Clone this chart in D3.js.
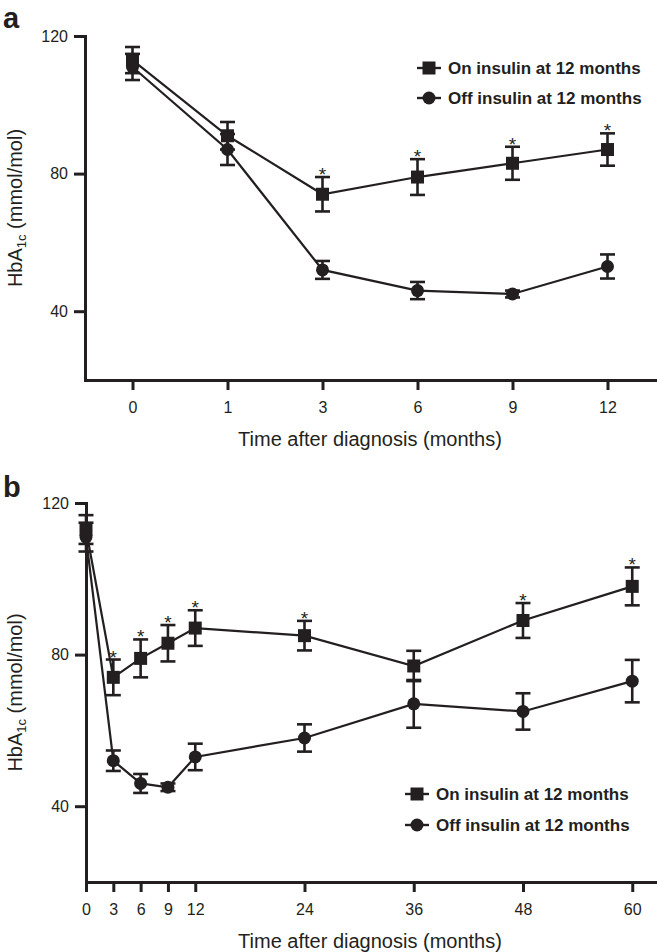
<!DOCTYPE html>
<html>
<head>
<meta charset="utf-8">
<script src="https://cdn.jsdelivr.net/npm/d3@7"></script>
<style>
  body { margin: 0; background: #fff; }
  svg text { font-family: "Liberation Sans", Arial, Helvetica, sans-serif; fill: #231f20; }
</style>
</head>
<body>
<script>
"use strict";

// ---- data, panel a (months shown as equally spaced categories)
const monthsA = [0, 1, 3, 6, 9, 12];
const onA = [113, 91, 74, 79, 83, 87];
const onErrA = [3.8, 4, 5, 5.2, 4.8, 4.7];
const offA = [111, 87, 52, 46, 45, 53];
const offErrA = [3.8, 4.5, 2.6, 2.5, 1, 3.5];
const sigA = [3, 6, 9, 12];

// ---- data, panel b (months on a linear scale)
const monthsB = [0, 3, 6, 9, 12, 24, 36, 48, 60];
const onB = [113, 74, 79, 83, 87, 85, 77, 89, 98];
const onErrB = [3.8, 4.7, 5, 4.8, 4.7, 3.9, 4, 4.6, 5];
const offB = [111, 52, 46, 45, 53, 58, 67, 65, 73];
const offErrB = [3.8, 2.7, 2.5, 1, 3.5, 3.6, 6.3, 4.8, 5.6];
const sigB = [3, 6, 9, 12, 24, 48, 60];

const yTicks = [40, 80, 120];
const xTicksB = [0, 3, 6, 9, 12, 24, 36, 48, 60];
const legendLabels = ["On insulin at 12 months", "Off insulin at 12 months"];
const xTitle = "Time after diagnosis (months)";

const ink = "#231f20";

const svg = d3.select("body").append("svg")
    .attr("width", 657)
    .attr("height", 952);

// draws one panel; p holds scales, data and a few layout numbers
function drawPanel(p) {
    const g = svg.append("g");
    const x = p.x, y = p.y;
    const px = p.px;
    const y0 = y.range()[0];
    const x0 = x.range()[0];

    // x axis
    const xa = g.append("g")
        .attr("transform", "translate(0," + y0 + ")")
        .call(d3.axisBottom(x).tickValues(p.xTicks).tickSize(10).tickPadding(12).tickSizeOuter(0));

    // y axis
    const ya = g.append("g")
        .attr("transform", "translate(" + x0 + ",0)")
        .call(d3.axisLeft(y).tickValues(yTicks).tickSize(11).tickPadding(6).tickSizeOuter(0));

    [xa, ya].forEach(a => {
        a.select(".domain").attr("stroke", ink).attr("stroke-width", 3).attr("stroke-linecap", "square");
        a.selectAll(".tick line").attr("stroke", ink).attr("stroke-width", 3);
        a.selectAll(".tick text").attr("font-size", 16).attr("font-family", null);
    });

    // axis titles
    g.append("text")
        .attr("x", 370)
        .attr("y", y0 + 66)
        .attr("text-anchor", "middle")
        .attr("font-size", 20)
        .text(xTitle);

    const yl = g.append("text")
        .attr("transform", "translate(22," + ((y.range()[0] + y.range()[1]) / 2) + ") rotate(-90)")
        .attr("text-anchor", "middle")
        .attr("font-size", 20);
    yl.append("tspan").text("HbA");
    yl.append("tspan").attr("font-size", 13).attr("dy", 4).text("1c");
    yl.append("tspan").attr("dy", -4).text(" (mmol/mol)");

    // panel letter
    g.append("text")
        .attr("x", 3)
        .attr("y", p.letterY)
        .attr("font-size", 29)
        .attr("font-weight", "bold")
        .text(p.letter);

    const series = [
        { vals: p.off, errs: p.offErr, shape: "circle" },
        { vals: p.on, errs: p.onErr, shape: "square" }
    ];

    const line = d3.line().x(d => px(d.m)).y(d => y(d.v));

    series.forEach(s => {
        s.pts = p.months.map((m, i) => ({ m: m, v: s.vals[i], e: s.errs[i] }));
        g.append("path")
            .datum(s.pts)
            .attr("d", line)
            .attr("fill", "none")
            .attr("stroke", ink)
            .attr("stroke-width", 2.2);
    });

    // error bars
    series.forEach(s => {
        const eb = g.append("g").selectAll("g").data(s.pts).enter().append("g")
            .attr("stroke", ink).attr("stroke-width", 2.6);
        eb.append("line")
            .attr("x1", d => px(d.m)).attr("x2", d => px(d.m))
            .attr("y1", d => y(d.v - d.e)).attr("y2", d => y(d.v + d.e));
        eb.append("line")
            .attr("x1", d => px(d.m) - 7.5).attr("x2", d => px(d.m) + 7.5)
            .attr("y1", d => y(d.v + d.e)).attr("y2", d => y(d.v + d.e));
        eb.append("line")
            .attr("x1", d => px(d.m) - 7.5).attr("x2", d => px(d.m) + 7.5)
            .attr("y1", d => y(d.v - d.e)).attr("y2", d => y(d.v - d.e));
    });

    // markers
    series.forEach(s => {
        const sel = g.append("g").selectAll(".mk").data(s.pts).enter();
        if (s.shape === "circle") {
            sel.append("circle")
                .attr("cx", d => px(d.m)).attr("cy", d => y(d.v)).attr("r", 6.5)
                .attr("fill", ink);
        } else {
            sel.append("rect")
                .attr("x", d => px(d.m) - 6.5).attr("y", d => y(d.v) - 6.5)
                .attr("width", 13).attr("height", 13)
                .attr("fill", ink);
        }
    });

    // significance stars over the on-insulin series
    const onPts = series[1].pts.filter(d => p.sig.indexOf(d.m) >= 0);
    g.append("g").selectAll("text").data(onPts).enter().append("text")
        .attr("x", d => px(d.m))
        .attr("y", d => y(d.v + d.e) + 4)
        .attr("text-anchor", "middle")
        .attr("font-size", 19)
        .text("*");

    // legend
    const lg = g.append("g").attr("transform", "translate(" + p.legX + "," + p.legY + ")");
    legendLabels.forEach((lab, i) => {
        const row = lg.append("g").attr("transform", "translate(0," + (i * p.legGap) + ")");
        row.append("line").attr("x1", -12).attr("x2", 12).attr("stroke", ink).attr("stroke-width", 2.4);
        if (i === 0) {
            row.append("rect").attr("x", -6.5).attr("y", -6.5).attr("width", 13).attr("height", 13).attr("fill", ink);
        } else {
            row.append("circle").attr("r", 6.5).attr("fill", ink);
        }
        row.append("text")
            .attr("x", 19)
            .attr("dy", "0.36em")
            .attr("font-size", 17)
            .attr("font-weight", "bold")
            .text(lab);
    });
}

// panel a
const xA = d3.scalePoint().domain(monthsA).range([85, 655]).padding(0.5);
const yA = d3.scaleLinear().domain([20, 120]).range([380, 36]);
drawPanel({
    letter: "a", letterY: 28,
    x: xA, y: yA, px: m => xA(m), xTicks: monthsA,
    months: monthsA, on: onA, onErr: onErrA, off: offA, offErr: offErrA, sig: sigA,
    legX: 429, legY: 68, legGap: 30
});

// panel b
const xB = d3.scaleLinear().domain([0, 62.5]).range([86, 655]);
const yB = d3.scaleLinear().domain([20, 120]).range([882, 503]);
drawPanel({
    letter: "b", letterY: 497,
    x: xB, y: yB, px: m => xB(m), xTicks: xTicksB,
    months: monthsB, on: onB, onErr: onErrB, off: offB, offErr: offErrB, sig: sigB,
    legX: 417, legY: 794, legGap: 31
});
</script>
</body>
</html>
